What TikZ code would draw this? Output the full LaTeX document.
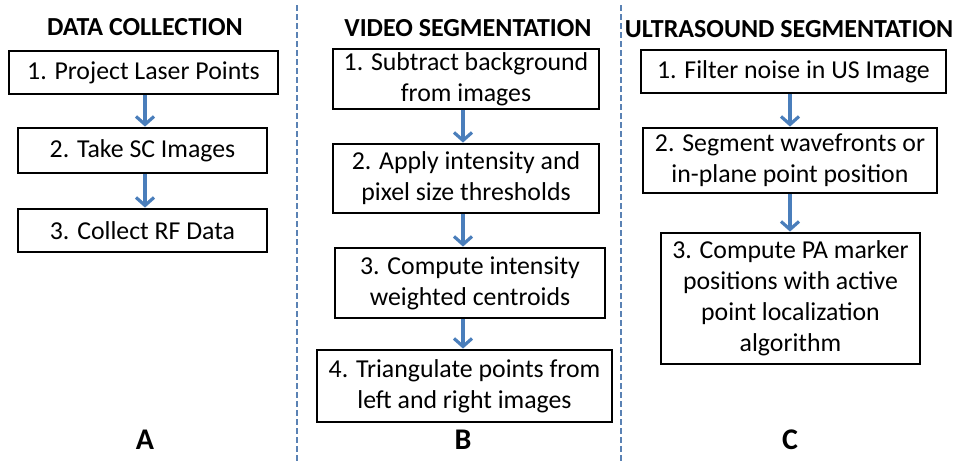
\documentclass[tikz,border=0pt]{standalone}
\usepackage{fontspec}
\setmainfont{Carlito}
\usetikzlibrary{arrows.meta}
\definecolor{arrblue}{RGB}{74,126,187}
\definecolor{dashblue}{RGB}{90,130,180}
\tikzset{
  stepbox/.style={draw=black, line width=2.8pt, inner sep=0pt, align=center,
    font=\fontsize{25.8}{31}\selectfont},
  title/.style={font=\fontsize{26}{28}\selectfont\bfseries, inner sep=0pt},
  panel/.style={font=\fontsize{30}{32}\selectfont\bfseries, inner sep=0pt},
  flow/.style={draw=arrblue, line width=3.2pt, -{Straight Barb[length=8pt,width=18pt]}},
  divider/.style={draw=dashblue, line width=2.4pt, dash pattern=on 6pt off 3pt}
}
\begin{document}
\begin{tikzpicture}[x=1pt,y=-1pt]
\useasboundingbox (0,0) rectangle (954,461);
% titles
\node[title] (tA) at (145,27) {DATA COLLECTION};
\node[title] (tB) at (468,28) {VIDEO SEGMENTATION};
\node[title] (tC) at (789,29) {ULTRASOUND SEGMENTATION};
% column A
\node[stepbox, minimum width=269, minimum height=43] (A1) at (143.5,72.5) {1. Project Laser Points};
\node[stepbox, minimum width=249, minimum height=45] (A2) at (142.5,150.5) {2. Take SC Images};
\node[stepbox, minimum width=249, minimum height=43] (A3) at (142.5,230.5) {3. Collect RF Data};
% column B
\node[stepbox, minimum width=266, minimum height=60] (B1) at (466,79) {1. Subtract background\\from images};
\node[stepbox, minimum width=266, minimum height=69] (B2) at (466,178.5) {2. Apply intensity and\\pixel size thresholds};
\node[stepbox, minimum width=270, minimum height=70] (B3) at (470,283) {3. Compute intensity\\weighted centroids};
\node[stepbox, minimum width=295, minimum height=72] (B4) at (464.5,386) {4. Triangulate points from\\left and right images};
% column C
\node[stepbox, minimum width=305, minimum height=43] (C1) at (793.5,71.5) {1. Filter noise in US Image};
\node[stepbox, minimum width=294, minimum height=65] (C2) at (790,160.5) {2. Segment wavefronts or\\in-plane point position};
\node[stepbox, minimum width=259, minimum height=131] (C3) at (790.5,298.5) {3. Compute PA marker\\positions with active\\point localization\\algorithm};
% panel letters
\node[panel] (LA) at (145,440) {A};
\node[panel] (LB) at (463,440) {B};
\node[panel] (LC) at (790,440) {C};
% arrows
\draw[flow] (A1.south -| 145,0) -- (A2.north -| 145,0);
\draw[flow] (A2.south -| 145,0) -- (A3.north -| 145,0);
\draw[flow] (B1.south -| 463,0) -- (B2.north -| 463,0);
\draw[flow] (B2.south -| 463,0) -- (B3.north -| 463,0);
\draw[flow] (B3.south -| 463,0) -- (B4.north -| 463,0);
\draw[flow] (C1.south -| 790,0) -- (C2.north -| 790,0);
\draw[flow] (C2.south -| 790,0) -- (C3.north -| 790,0);
% dividers
\coordinate (d1t) at (297,5); \coordinate (d1b) at (297,461);
\coordinate (d2t) at (621,5); \coordinate (d2b) at (621,461);
\draw[divider] (d1t) -- (d1b);
\draw[divider] (d2t) -- (d2b);
\end{tikzpicture}
\end{document}
